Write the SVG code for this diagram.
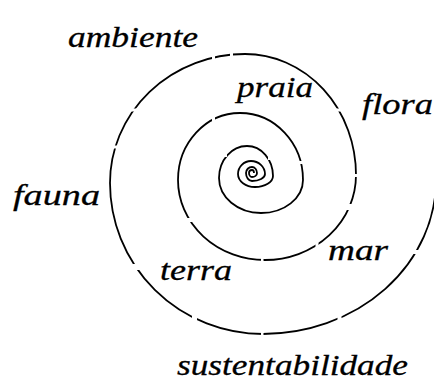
<svg xmlns="http://www.w3.org/2000/svg" width="434" height="380" viewBox="0 0 434 380">
<style>
.lbl{font-family:"Liberation Serif","Times New Roman",serif;font-style:italic;font-size:30px;fill:#000;stroke:#000;stroke-width:0.3}
.sp{fill:none;stroke:#000;stroke-width:1.8;stroke-linecap:butt}
</style>
<defs>
<mask id="gaps" maskUnits="userSpaceOnUse" x="0" y="0" width="434" height="380">
<rect x="0" y="0" width="434" height="380" fill="#fff"/>
<g fill="#000">
<rect x="212" y="45" width="3" height="20"/>
<rect x="230" y="45" width="3" height="20"/>
<rect x="120" y="108.5" width="30" height="3"/>
<rect x="100" y="145.5" width="30" height="3"/>
<rect x="330" y="108.5" width="25" height="3"/>
<rect x="345" y="174" width="20" height="3"/>
<rect x="120" y="264" width="30" height="6"/>
<rect x="192" y="305" width="5" height="20"/>
<rect x="261" y="325" width="2.5" height="20"/>
<rect x="337.5" y="305" width="4" height="20"/>
<rect x="400" y="250" width="30" height="4"/>
<rect x="170" y="218" width="30" height="4"/>
<rect x="261" y="250" width="2.5" height="20"/>
<rect x="315.5" y="232" width="3" height="20"/>
<rect x="335" y="204" width="25" height="6"/>
<rect x="212" y="110" width="3" height="20"/>
<rect x="290" y="161" width="25" height="3"/>
<rect x="223" y="153" width="4" height="4"/>
<rect x="268" y="156" width="4" height="4"/>
</g>
</mask>
</defs>
<g id="connectors">
<path id="spiral" class="sp" mask="url(#gaps)" d="M254,173 A2,3 0 0 0 252,170 A3,3 0 0 0 249,173 A3,4 0 0 0 252,177 A5,4 0 0 0 257,173 A5,6 0 0 0 252,167 A6,6 0 0 0 246,173 A6,8 0 0 0 252,181 A13,7 0 0 0 265,174 A14,13 0 0 0 251,161 A13,13 0 0 0 238,174 A17,13 0 0 0 255,187 A18,11 0 0 0 273,176 A26,30 0 0 0 247,146 A28,32 0 0 0 219,178 A42,35 0 0 0 261,213 A42,33 0 0 0 303,180 A63,67 0 0 0 240,113 A62,67 0 0 0 178,180 A87,80 0 0 0 265,260 A91,85 0 0 0 356,175 A111,121 0 0 0 245,54 A135,129 0 0 0 110,183 A153,151 0 0 0 263,334 A173,154 0 0 0 436,180"/>
</g>
<g id="ambiente"><text class="lbl" x="68" y="47" textLength="130" lengthAdjust="spacingAndGlyphs">ambiente</text></g>
<g id="praia"><text class="lbl" x="237" y="97" textLength="76" lengthAdjust="spacingAndGlyphs">praia</text></g>
<g id="flora"><text class="lbl" x="362" y="114" textLength="71" lengthAdjust="spacingAndGlyphs">flora</text></g>
<g id="fauna"><text class="lbl" x="13" y="205" textLength="87" lengthAdjust="spacingAndGlyphs">fauna</text></g>
<g id="terra"><text class="lbl" x="160" y="280" textLength="72" lengthAdjust="spacingAndGlyphs">terra</text></g>
<g id="mar"><text class="lbl" x="328" y="260" textLength="60" lengthAdjust="spacingAndGlyphs">mar</text></g>
<g id="sustentabilidade"><text class="lbl" x="177" y="375" textLength="231" lengthAdjust="spacingAndGlyphs">sustentabilidade</text></g>
</svg>
